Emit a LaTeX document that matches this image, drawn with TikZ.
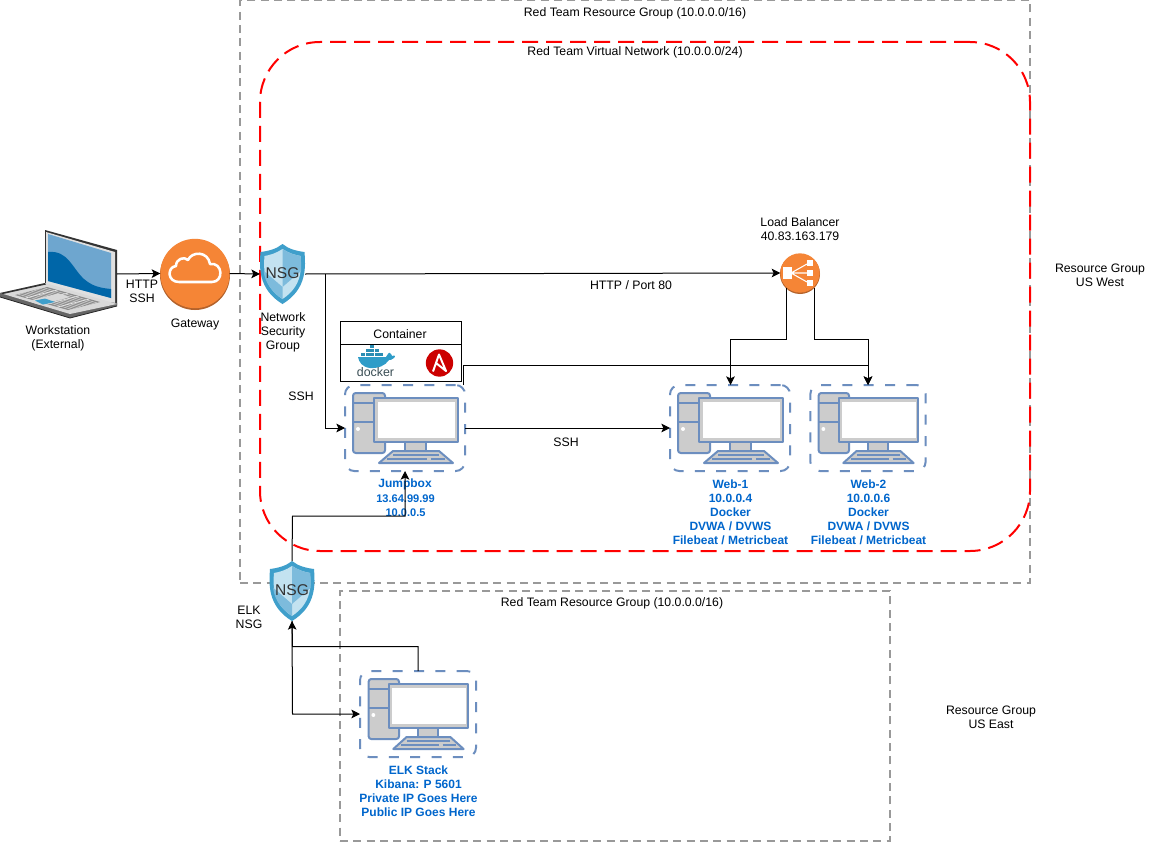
\documentclass[tikz,border=0pt]{standalone}
\usepackage{fontspec}
\setmainfont{Liberation Sans}
\usetikzlibrary{arrows.meta,calc,shapes.geometric}
\definecolor{redd}{HTML}{FF0000}
\definecolor{gryd}{HTML}{999999}
\definecolor{blud}{HTML}{6C8EBF}
\definecolor{pcf}{HTML}{CCCCCC}
\definecolor{txtb}{HTML}{0066CC}
\definecolor{awso}{HTML}{F58536}
\definecolor{awsd}{HTML}{B3622B}
\definecolor{nsgd}{HTML}{3F9FCB}
\definecolor{nsgm}{HTML}{7DBBDC}
\definecolor{nsgl}{HTML}{C3E2F0}
\definecolor{dockb}{HTML}{2F9CC8}
\definecolor{dockd}{HTML}{394D54}
\definecolor{ansr}{HTML}{CC0000}
\definecolor{lapl}{HTML}{6EA6CF}
\definecolor{lapd}{HTML}{0066A8}
\tikzset{
 lab/.style={font=\fontsize{9.2pt}{10.5pt}\selectfont,align=center,inner sep=0pt,text=black},
 bl/.style={font=\fontsize{9pt}{10.5pt}\selectfont\bfseries,align=center,inner sep=0pt,text=txtb},
 blsm/.style={font=\fontsize{8.3pt}{10.5pt}\selectfont\bfseries,align=center,inner sep=0pt,text=txtb},
 conn/.style={draw=black,line width=0.75pt,-{Stealth[length=6.5pt,width=6.5pt,inset=1.5pt]}},
 grpbox/.style={draw=gryd,line width=1.5pt,dash pattern=on 6pt off 4pt,inner sep=0pt,outer sep=0pt},
 vnet/.style={draw=redd,line width=1.5pt,dash pattern=on 12pt off 6pt,rounded corners=45pt,inner sep=0pt,outer sep=0pt},
 hostbox/.style={draw=blud,line width=1.5pt,dash pattern=on 7.5pt off 8.5pt,rounded corners=7pt,inner sep=0pt,outer sep=0pt,minimum height=64.5pt},
 anchorbox/.style={inner sep=0pt,outer sep=0pt},
 pics/computer/.style={code={
   \begin{scope}[line width=1.5pt,draw=blud,fill=pcf,line join=round]
   \filldraw[rounded corners=2pt] (-52,-35) rectangle (-20,25);
   \draw (-52,-25) -- (-20,-25) (-52,-6) -- (-20,-6);
   \fill[white] (-47,1) circle (2);
   \filldraw (0,14) rectangle (21,25);
   \filldraw (-26,35) -- (-12,23) -- (34,23) -- (48,35) -- cycle;
   \draw[line width=1pt] (-12,27) -- (34,27) (-18,31) -- (22,31) (26,31) -- (40,31);
   \filldraw (-31,-30) rectangle (53,14);
   \fill[white] (-27,-26) rectangle (50,10);
   \end{scope}
 }},
 pics/shield/.style={code={
   \fill[nsgd] (0,-30) .. controls (6,-25) and (14,-23) .. (22,-22) .. controls (23,-8) and (25,15) .. (0,30)
       .. controls (-25,15) and (-23,-8) .. (-22,-22) .. controls (-14,-23) and (-6,-25) .. (0,-30) -- cycle;
   \fill[nsgl] (0,-25) .. controls (6,-21) and (12,-19) .. (18,-18) .. controls (19,-6) and (20,12) .. (0,25)
       .. controls (-20,12) and (-19,-6) .. (-18,-18) .. controls (-12,-19) and (-6,-21) .. (0,-25) -- cycle;
   \fill[nsgm] (0,-25) .. controls (6,-21) and (12,-19) .. (18,-18) .. controls (18.6,-12) and (19,-8) .. (18.5,-3) -- (0,13) -- cycle;
   \fill[nsgm] (-18.5,-3) -- (0,13) -- (0,25) .. controls (-20,12) and (-19,-6) .. (-18.5,-3) -- cycle;
   \node[inner sep=0pt,text=black!80,font=\fontsize{11.7pt}{12pt}\selectfont] at (0,-1) {NSG};
 }}
}
\begin{document}
\begin{tikzpicture}[x=0.75pt,y=-0.75pt]
\useasboundingbox (0,0) rectangle (1156,842);
\fill[white] (0,0) rectangle (1156,842);
% groups
\node[grpbox,minimum width=592.5pt,minimum height=436.5pt] (rgw) at (635,291.5) {};
\node[vnet,minimum width=577.5pt,minimum height=381.75pt] (vn) at (645,296.5) {};
\node[grpbox,minimum width=412.5pt,minimum height=187.5pt] (rge) at (615,716) {};
% labels of groups
\node[lab] (t1) at (635,13) {Red Team Resource Group (10.0.0.0/16)};
\node[lab] (t2) at (635,52) {Red Team Virtual Network (10.0.0.0/24)};
\node[lab] (t3) at (612,603) {Red Team Resource Group (10.0.0.0/16)};
\node[lab] (t4) at (1100,275) {Resource Group\\US West};
\node[lab] (t5) at (991,717) {Resource Group\\US East};

% laptop
\node[anchorbox,minimum width=87.75pt,minimum height=50pt] (ws) at (58.5,274) {};
\begin{scope}[line join=round]
 % lid
 \fill[black!80] (45,230) -- (117,250) -- (117,305) -- (45,284) -- cycle;
 \fill[black!12] (46,232) -- (115,252) -- (115,304) -- (46,284) -- cycle;
 \fill[lapl] (48,234) -- (111,253) -- (111,298) -- (48,281) -- cycle;
 \fill[lapd] (48,252) .. controls (68,250) and (72,268) .. (84,279) .. controls (92,286) and (100,288) .. (111,289) -- (111,298) -- (48,281) -- cycle;
 % base
 \fill[black!60] (0,293) -- (0,297) -- (70,318) -- (117,306) -- (117,303) -- cycle;
 \fill[black!15] (0,293) -- (45,283) -- (117,304) -- (70,314) -- cycle;
 \fill[black!80] (0,293) -- (45,283) -- (46,284.5) -- (3,294) -- cycle;
 \fill[black!45] (15,295) -- (47,287) -- (100,302) -- (68,310) -- cycle;
 \foreach \i in {1,2,3,4}{\draw[black!10,line width=0.5pt] ($(15,295)!\i/5!(68,310)$) -- ($(47,287)!\i/5!(100,302)$);}
 \foreach \i in {1,...,9}{\draw[black!10,line width=0.3pt] ($(15,295)!\i/10!(47,287)$) -- ($(68,310)!\i/10!(100,302)$);}
 \fill[black!15] (28,301) -- (58,293.5) -- (70,297) -- (40,305) -- cycle;
 \fill[nsgd] (35,300.5) -- (45,298.5) -- (55,302) -- (43,304.5) -- cycle;
 \draw[black!85,line width=0.6pt] (0,297) -- (70,318) -- (117,306);
\end{scope}
\node[lab] (wsl) at (58,338) {Workstation\\(External)};

% gateway
\fill[awsd] (195,275) circle (35);
\node[circle,fill=awso,minimum size=52pt,inner sep=0pt,outer sep=0pt] (gw) at (195,273.5) {};
\draw[white,line width=1.9pt,line join=round] (179,282) .. controls (167,282) and (167,267) .. (176,266)
  .. controls (176,259) and (184,256) .. (188,260) .. controls (192,251) and (208,251) .. (210,264)
  .. controls (223,262) and (224,282) .. (212,282) -- cycle;
\node[lab] (gwl) at (195,324) {Gateway};

% NSG 1
\node[anchorbox,minimum width=33.75pt,minimum height=45pt] (nsgA) at (282.5,274) {};
\pic at (282.5,274) {shield};
\node[lab] (nsgAl) at (283,332) {Network\\Security\\Group};

% Load balancer
\fill[awsd] (800,274) circle (20);
\node[circle,fill=awso,minimum size=29.5pt,inner sep=0pt,outer sep=0pt] (lb) at (800,273) {};
\begin{scope}[white]
 \fill (783,267) rectangle (792,279);
 \fill (807,260) rectangle (813,266);
 \fill (807,270) rectangle (813,276);
 \fill (807,280) rectangle (813,286);
 \draw[line width=0.8pt] (791,273) -- (807,264) (791,273) -- (807,273) (791,273) -- (807,282);
\end{scope}
\node[lab] (lbl) at (800,229) {Load Balancer\\40.83.163.179};

% container
\node[draw=black,line width=0.75pt,minimum width=90.75pt,minimum height=45pt,inner sep=0pt,outer sep=0pt] (ct) at (400.5,351) {};
\draw[black,line width=0.75pt] (ct.west |- 0,344.5) -- (ct.east |- 0,344.5);
\node[lab] (ctl) at (400,334) {Container};
% docker
\begin{scope}
 \fill[dockb] (358,357) -- (386,357) .. controls (387,355) and (389,352) .. (390,353) .. controls (391,354) and (392,355) .. (392,356) .. controls (395,355) and (396,356) .. (394,358) .. controls (392,360) and (390,360) .. (389,360)
   .. controls (385,366) and (378,368.5) .. (370,368) .. controls (362,367) and (359,362) .. (358,357) -- cycle;
 \foreach \x/\y in {361/352.5,365.5/352.5,370/352.5,374.5/352.5,379/352.5,365.5/348.5,370/348.5,374.5/348.5,370/344.5}
   {\fill[dockb!90!black] (\x,\y) rectangle +(4,3.4);}
 \node[inner sep=0pt,text=dockd,font=\fontsize{9.3pt}{9.3pt}\selectfont] (dk) at (375.5,372.5) {docker};
\end{scope}
% ansible
\node[circle,fill=ansr,minimum size=20.5pt,inner sep=0pt,outer sep=0pt] (an) at (439.5,363) {};
\draw[white,line width=1.5pt,line join=round] (433,371.5) -- (439,354.5) -- (446,371) -- (436,363);

% hosts
\node[hostbox,minimum width=90pt] (jb) at (405,428) {};
\pic at (405,428) {computer};
\node[hostbox,minimum width=90pt] (w1) at (730,428) {};
\pic at (730,428) {computer};
\node[hostbox,minimum width=86.5pt] (w2) at (868,428) {};
\pic[xscale=0.95] at (868,428) {computer};
\node[hostbox,minimum width=87pt] (elk) at (418,714) {};
\pic[xscale=0.95] at (418,714) {computer};

\node[bl] (jbl1) at (405,484) {Jumpbox};
\node[blsm] (jbl) at (405.5,505.5) {13.64.99.99\\10.0.0.5};
\node[bl] (w1l) at (730.5,512) {Web-1\\10.0.0.4\\Docker\\DVWA / DVWS\\Filebeat / Metricbeat};
\node[bl] (w2l) at (868.5,512) {Web-2\\10.0.0.6\\Docker\\DVWA / DVWS\\Filebeat / Metricbeat};
\node[bl] (elkl) at (418.5,791) {ELK Stack\\Kibana: P 5601\\Private IP Goes Here\\Public IP Goes Here};

% NSG 2
\node[anchorbox,minimum width=33.75pt,minimum height=45pt] (nsgB) at (292,591) {};
\pic at (292,591) {shield};
\node[lab] (nsgBl) at (249,617) {ELK\\NSG};

% connector labels
\node[lab] (c1) at (142,291) {HTTP\\SSH};
\node[lab] (c2) at (631,285) {HTTP / Port 80};
\node[lab] (c3) at (301,396) {SSH};
\node[lab] (c4) at (566,442) {SSH};

% connector way points
\coordinate (a1) at (325,274);
\coordinate (a2) at (325,428);
\coordinate (b1) at (463.5,385);
\coordinate (b2) at (463.5,365.5);
\coordinate (b3) at (868,365.5);
\coordinate (w2t) at (868,385);
\coordinate (w1t) at (730.5,385);
\coordinate (l1) at (786,288);
\coordinate (l2) at (786,339.5);
\coordinate (l3) at (730.5,339.5);
\coordinate (r1) at (814,288);
\coordinate (r2) at (814,339.5);
\coordinate (r3) at (868,339.5);
\coordinate (j1) at (292.5,516);
\coordinate (j2) at (405,516);
\coordinate (e1) at (418,671);
\coordinate (e2) at (418,646.5);
\coordinate (e3) at (292.5,646.5);
\coordinate (f1) at (292.5,714);

% connectors
\draw[conn] (ws.east) -- (gw.west);
\draw[conn] (gw.east) -- (nsgA.west);
\draw[conn] (nsgA.east) -- (lb.west);
\draw[conn] (a1) -- (a2) -- (jb.west);
\draw[conn] (jb.east) -- (w1.west);
\draw[conn] (b1) -- (b2) -- (b3) -- (w2t);
\draw[conn] (l1) -- (l2) -- (l3) -- (w1t);
\draw[conn] (r1) -- (r2) -- (r3) -- (w2t);
\draw[conn] (nsgB.north) -- (j1) -- (j2) -- (jb.south);
\draw[conn] (e1) -- (e2) -- (e3) -- (nsgB.south);
\draw[conn] (nsgB.south) -- (f1) -- (elk.west);
\end{tikzpicture}
\end{document}
